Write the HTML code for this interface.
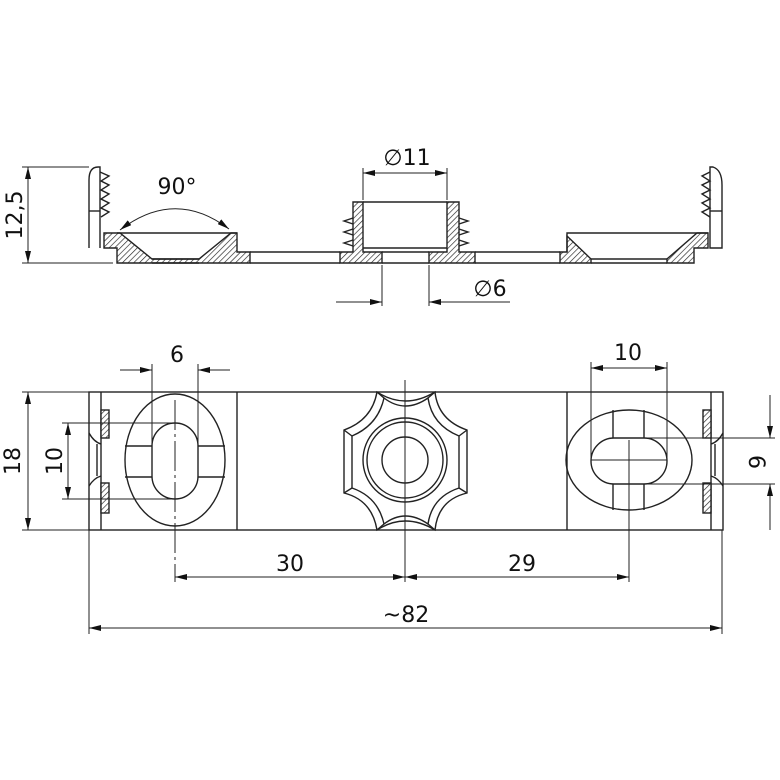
<!DOCTYPE html>
<html><head><meta charset="utf-8"><style>
html,body{margin:0;padding:0;background:#fff}
svg{display:block}
text{font-family:"DejaVu Sans","Liberation Sans",sans-serif;font-size:22px;fill:#111}
</style></head><body>
<svg width="780" height="780" viewBox="0 0 780 780" xmlns="http://www.w3.org/2000/svg">
<defs>
<pattern id="h" width="4" height="4" patternUnits="userSpaceOnUse" patternTransform="rotate(45)">
<rect width="4" height="4" fill="#fff"/><line x1="0" y1="0" x2="0" y2="4" stroke="#222" stroke-width="1.3"/>
</pattern>
<marker id="a" viewBox="0 0 12 6" refX="12" refY="3" markerWidth="12" markerHeight="6" orient="auto-start-reverse" markerUnits="userSpaceOnUse">
<path d="M0,0 L12,3 L0,6 Z" fill="#111"/></marker>
</defs>
<g fill="none" stroke="#222" stroke-width="1.4">
<path d="M89,248 L89,180 Q89,167 98,167 L100,167 L100,248"/>
<line x1="89" y1="211" x2="100" y2="211"/>
<path d="M100,172 L109,176 L101,181 L109,185 L101,190 L109,194 L101,199 L109,203 L101,208 L109,212 L101,217"/>
<path d="M104,233 L120,233 L152,259 L199,259 L199,259 L231,233 L237,233 L237,252 L250,252 L250,263 L117,263 L117,248 L104,248 Z" fill="url(#h)"/>
<line x1="117" y1="233" x2="237" y2="233"/>
<line x1="152" y1="259" x2="199" y2="259"/>
<line x1="152" y1="263" x2="199" y2="263"/>
<line x1="250" y1="252" x2="340" y2="252"/><line x1="250" y1="263" x2="340" y2="263"/>
<path d="M340,252 L353,252 L353,202 L363,202 L363,248 L363,252 L382,252 L382,263 L340,263 Z" fill="url(#h)"/>
<path d="M429,252 L447,252 L447,202 L459,202 L459,252 L475,252 L475,263 L429,263 Z" fill="url(#h)"/>
<line x1="363" y1="202" x2="447" y2="202"/>
<line x1="363" y1="248" x2="447" y2="248"/>
<line x1="382" y1="252" x2="429" y2="252"/><line x1="382" y1="263" x2="429" y2="263"/>
<path d="M353,218 L344,221 L353,224 M353,229 L344,232 L353,235 M353,240 L344,243 L353,246"/>
<path d="M459,218 L468,221 L459,224 M459,229 L468,232 L459,235 M459,240 L468,243 L459,246"/>
<line x1="475" y1="252" x2="560" y2="252"/><line x1="475" y1="263" x2="560" y2="263"/>
<path d="M560,252 L567,252 L567,236 L591,259 L591,263 L560,263 Z" fill="url(#h)"/>
<path d="M667,263 L667,259 L697,233 L708,233 L708,248 L694,248 L694,263 Z" fill="url(#h)"/>
<path d="M567,252 L567,233 L708,233"/>
<line x1="591" y1="259" x2="667" y2="259"/><line x1="591" y1="263" x2="667" y2="263"/>
<path d="M710,248 L710,167 L713,167 Q722,170 722,185 L722,248 Z"/>
<line x1="710" y1="211" x2="722" y2="211"/>
<path d="M710,172 L702,176 L710,181 L702,185 L710,190 L702,194 L710,199 L702,203 L710,208 L702,212 L710,217"/>
</g>
<g fill="none" stroke="#222" stroke-width="1">
<line x1="22" y1="167" x2="89" y2="167"/><line x1="22" y1="263" x2="113" y2="263"/>
<line x1="28" y1="167" x2="28" y2="263" marker-start="url(#a)" marker-end="url(#a)"/>
<path d="M120,230 Q175,188 229,229" marker-start="url(#a)" marker-end="url(#a)"/>
<line x1="363" y1="200" x2="363" y2="168"/><line x1="447" y1="200" x2="447" y2="168"/>
<line x1="363" y1="173" x2="447" y2="173" marker-start="url(#a)" marker-end="url(#a)"/>
<line x1="382" y1="265" x2="382" y2="306"/><line x1="429" y1="265" x2="429" y2="306"/>
<line x1="336" y1="302" x2="382" y2="302" marker-end="url(#a)"/>
<line x1="510" y1="302" x2="429" y2="302" marker-end="url(#a)"/>
</g>
<text transform="translate(22,215) rotate(-90)" text-anchor="middle">12,5</text>
<text x="177" y="194" text-anchor="middle">90°</text>
<text x="407" y="165" text-anchor="middle">∅11</text>
<text x="490" y="296" text-anchor="middle">∅6</text>

<g fill="none" stroke="#222" stroke-width="1.4">
<rect x="89" y="392" width="634" height="138"/>
<line x1="101" y1="392" x2="101" y2="530"/>
<line x1="237" y1="392" x2="237" y2="530"/>
<line x1="567" y1="392" x2="567" y2="530"/>
<line x1="711" y1="392" x2="711" y2="530"/>
<rect x="101" y="410" width="8" height="28" fill="url(#h)"/>
<rect x="101" y="483" width="8" height="30" fill="url(#h)"/>
<path d="M89,433 Q94,442 101,444 M89,486 Q94,478 101,476 M97,444 L97,476"/>
<rect x="703" y="410" width="8" height="28" fill="url(#h)"/>
<rect x="703" y="483" width="8" height="30" fill="url(#h)"/>
<path d="M723,433 Q718,442 711,444 M723,486 Q718,478 711,476 M715,444 L715,476"/>
<ellipse cx="175" cy="460" rx="50" ry="66"/>
<path d="M152,446 A23,23 0 0 1 198,446 L198,476 A23,23 0 0 1 152,476 Z"/>
<line x1="125" y1="446" x2="152" y2="446"/><line x1="198" y1="446" x2="225" y2="446"/>
<line x1="125" y1="477" x2="152" y2="477"/><line x1="198" y1="477" x2="225" y2="477"/>
<path d="M377,392 Q405,410 435,392 Q438,420 467,430 L467,493 Q438,500 435,530 Q405,512 377,530 Q372,500 344,493 L344,430 Q372,420 377,392 Z"/>
<path d="M384,398 Q405,414 428,398 Q432,425 459,436 L459,488 Q432,497 428,524 Q405,508 384,524 Q378,497 352,488 L352,436 Q378,425 384,398 Z"/>
<line x1="344" y1="430" x2="352" y2="436"/><line x1="467" y1="430" x2="459" y2="436"/>
<line x1="344" y1="493" x2="352" y2="488"/><line x1="467" y1="493" x2="459" y2="488"/>
<line x1="377" y1="392" x2="384" y2="398"/><line x1="435" y1="392" x2="428" y2="398"/>
<line x1="377" y1="530" x2="384" y2="524"/><line x1="435" y1="530" x2="428" y2="524"/>
<circle cx="405" cy="460" r="42"/><circle cx="405" cy="460" r="38"/><circle cx="405" cy="460" r="23"/>
<ellipse cx="629" cy="460" rx="63" ry="50"/>
<path d="M614,438 L644,438 A23,23 0 0 1 644,484 L614,484 A23,23 0 0 1 614,438 Z"/>
<line x1="613" y1="410" x2="613" y2="438"/><line x1="644" y1="410" x2="644" y2="438"/>
<line x1="613" y1="484" x2="613" y2="510"/><line x1="644" y1="484" x2="644" y2="510"/>
</g>
<g fill="none" stroke="#222" stroke-width="1">
<line x1="175" y1="400" x2="175" y2="582" stroke-dasharray="30,4,3,4"/>
<line x1="405" y1="380" x2="405" y2="582"/>
<line x1="629" y1="440" x2="629" y2="582"/>
<line x1="591" y1="460" x2="667" y2="460"/>
<line x1="152" y1="446" x2="152" y2="364"/><line x1="198" y1="446" x2="198" y2="364"/>
<line x1="120" y1="370" x2="152" y2="370" marker-end="url(#a)"/>
<line x1="230" y1="370" x2="198" y2="370" marker-end="url(#a)"/>
<line x1="591" y1="460" x2="591" y2="362"/><line x1="667" y1="460" x2="667" y2="362"/>
<line x1="591" y1="368" x2="667" y2="368" marker-start="url(#a)" marker-end="url(#a)"/>
<line x1="62" y1="423" x2="175" y2="423"/><line x1="62" y1="499" x2="175" y2="499"/>
<line x1="68" y1="423" x2="68" y2="499" marker-start="url(#a)" marker-end="url(#a)"/>
<line x1="22" y1="392" x2="89" y2="392"/><line x1="22" y1="530" x2="89" y2="530"/>
<line x1="28" y1="392" x2="28" y2="530" marker-start="url(#a)" marker-end="url(#a)"/>
<line x1="644" y1="438" x2="775" y2="438"/><line x1="644" y1="484" x2="775" y2="484"/>
<line x1="770" y1="395" x2="770" y2="438" marker-end="url(#a)"/>
<line x1="770" y1="530" x2="770" y2="484" marker-end="url(#a)"/>
<line x1="175" y1="577" x2="405" y2="577" marker-start="url(#a)" marker-end="url(#a)"/>
<line x1="405" y1="577" x2="629" y2="577" marker-start="url(#a)" marker-end="url(#a)"/>
<line x1="89" y1="530" x2="89" y2="634"/><line x1="722" y1="530" x2="722" y2="634"/>
<line x1="89" y1="628" x2="722" y2="628" marker-start="url(#a)" marker-end="url(#a)"/>
</g>
<text x="177" y="362" text-anchor="middle">6</text>
<text x="628" y="360" text-anchor="middle">10</text>
<text transform="translate(62,461) rotate(-90)" text-anchor="middle">10</text>
<text transform="translate(20,461) rotate(-90)" text-anchor="middle">18</text>
<text transform="translate(749,462) rotate(90)" text-anchor="middle">6</text>
<text x="290" y="571" text-anchor="middle">30</text>
<text x="522" y="571" text-anchor="middle">29</text>
<text x="406" y="622" text-anchor="middle">~82</text>
</svg>
</body></html>
